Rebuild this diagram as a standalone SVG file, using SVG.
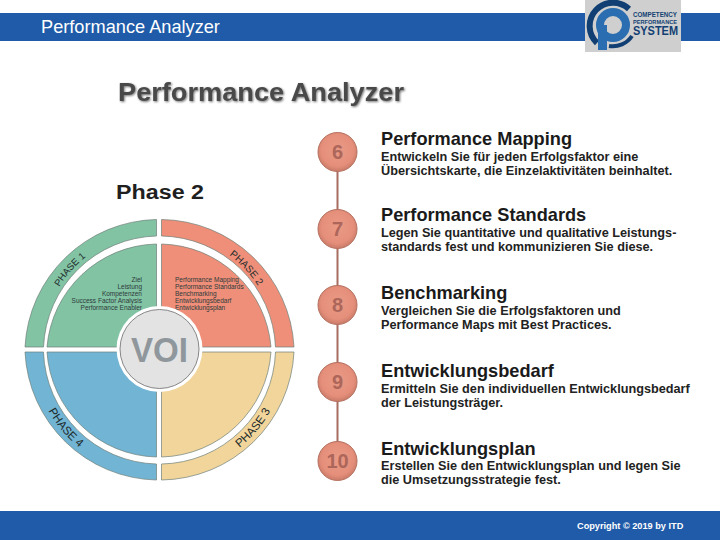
<svg xmlns="http://www.w3.org/2000/svg" width="720" height="540" viewBox="0 0 720 540">
<style>
text{font-family:"Liberation Sans",Arial,sans-serif}
.h{font-size:18.2px;font-weight:700;fill:#1a1a1a}
.b{font-size:12.7px;font-weight:700;fill:#222}
.num{font-size:20px;font-weight:700;fill:#ad665a;text-anchor:middle}
.ph{fill:#1d2b2b;text-anchor:middle}
.sm{font-size:6.5px;fill:#2d3a3a}
.band{fill:#1f5ba8}
.bub{fill:url(#bub);stroke:#b5705f;stroke-width:1}
.edge{stroke:#6f7f78;stroke-width:.7}
</style>
<defs>
<radialGradient id="bub" cx="50%" cy="45%" r="55%"><stop offset="0" stop-color="#e99a85"/><stop offset="0.75" stop-color="#e58f7b"/><stop offset="1" stop-color="#c97a68"/></radialGradient>
<filter id="sh" x="-5%" y="-30%" width="110%" height="170%"><feDropShadow dx="1" dy="1" stdDeviation="1" flood-color="#777"/></filter>
<path id="p1" d="M 46.4 315.5 A 118 118 0 0 1 112.5 240.8" fill="none"/>
<path id="p2" d="M 203.3 240.5 A 117 117 0 0 1 270.8 312.8" fill="none"/>
<path id="p3" d="M 213.2 464.1 A 127 127 0 0 0 282.2 381.9" fill="none"/>
<path id="p4" d="M 36.8 381.9 A 127 127 0 0 0 105.8 464.1" fill="none"/>
</defs>
<rect width="720" height="540" fill="#fff"/>
<rect class="band" x="0" y="13" width="720" height="28"/>
<rect class="band" x="0" y="511" width="720" height="29"/>
<text x="41" y="33" font-size="18.2" fill="#fff">Performance Analyzer</text>
<text x="577" y="529" font-size="9.2" font-weight="700" fill="#fff">Copyright © 2019 by ITD</text>
<g id="logo">
<rect x="585" y="0" width="96" height="52" fill="#cfcfcf"/>
<path d="M 629 9 A 23 23 0 1 0 597 43" fill="none" stroke="#123f73" stroke-width="6"/>
<path d="M 609 46 A 23 23 0 0 0 632 36" fill="none" stroke="#123f73" stroke-width="4"/>
<circle cx="613" cy="25" r="13" fill="none" stroke="#2a6db0" stroke-width="8"/>
<rect x="598" y="25" width="9" height="25" fill="#2a6db0"/>
<text x="633" y="16.5" font-size="6.5" font-weight="700" fill="#123f73" textLength="44" lengthAdjust="spacingAndGlyphs">COMPETENCY</text>
<text x="633" y="23.5" font-size="5.8" font-weight="700" fill="#123f73" textLength="44" lengthAdjust="spacingAndGlyphs">PERFORMANCE</text>
<text x="633" y="35" font-size="12" font-weight="700" fill="#123f73" textLength="45" lengthAdjust="spacingAndGlyphs">SYSTEM</text>
</g>
<text x="118" y="101" font-size="25" font-weight="700" fill="#4a4a4a" filter="url(#sh)" textLength="286" lengthAdjust="spacingAndGlyphs">Performance Analyzer</text>
<text x="116" y="199" font-size="20" font-weight="700" fill="#1f1f1f" textLength="88" lengthAdjust="spacingAndGlyphs">Phase 2</text>
<g id="connectors"><line x1="337.5" y1="152" x2="337.5" y2="461" stroke="#a86c60" stroke-width="2"/></g>
<g id="step6"><circle class="bub" cx="337.5" cy="152" r="19.5"/><text class="num" x="337.5" y="159">6</text>
<text class="h" x="381" y="145">Performance Mapping</text>
<text class="b" x="381" y="161">Entwickeln Sie für jeden Erfolgsfaktor eine</text>
<text class="b" x="381" y="175">Übersichtskarte, die Einzelaktivitäten beinhaltet.</text></g>
<g id="step7"><circle class="bub" cx="337.5" cy="229" r="19.5"/><text class="num" x="337.5" y="236">7</text>
<text class="h" x="381" y="221">Performance Standards</text>
<text class="b" x="381" y="237">Legen Sie quantitative und qualitative Leistungs-</text>
<text class="b" x="381" y="251">standards fest und kommunizieren Sie diese.</text></g>
<g id="step8"><circle class="bub" cx="337.5" cy="305" r="19.5"/><text class="num" x="337.5" y="312">8</text>
<text class="h" x="381" y="299">Benchmarking</text>
<text class="b" x="381" y="315">Vergleichen Sie die Erfolgsfaktoren und</text>
<text class="b" x="381" y="329">Performance Maps mit Best Practices.</text></g>
<g id="step9"><circle class="bub" cx="337.5" cy="382" r="19.5"/><text class="num" x="337.5" y="389">9</text>
<text class="h" x="381" y="377">Entwicklungsbedarf</text>
<text class="b" x="381" y="393">Ermitteln Sie den individuellen Entwicklungsbedarf</text>
<text class="b" x="381" y="407">der Leistungsträger.</text></g>
<g id="step10"><circle class="bub" cx="337.5" cy="461" r="19.5"/><text class="num" x="337.5" y="468">10</text>
<text class="h" x="381" y="455">Entwicklungsplan</text>
<text class="b" x="381" y="470">Erstellen Sie den Entwicklungsplan und legen Sie</text>
<text class="b" x="381" y="484">die Umsetzungsstrategie fest.</text></g>
<g id="wheel">
<g id="q1">
<path class="edge" d="M 156.5 219.5 A 134.5 134.5 0 0 0 25 347 L 43.5 347 A 116 116 0 0 1 156.5 236 Z" fill="#82c3a4"/>
<path class="edge" d="M 156.5 244 A 112.5 112.5 0 0 0 47 347 L 156.5 347 Z" fill="#82c3a4"/>
<text class="ph" font-size="9.5"><textPath href="#p1" startOffset="50%">PHASE 1</textPath></text>
<text class="sm" text-anchor="end"><tspan x="142" y="281.5">Ziel</tspan><tspan x="142" y="288.7">Leistung</tspan><tspan x="142" y="295.9">Kompetenzen</tspan><tspan x="142" y="303.1">Success Factor Analysis</tspan><tspan x="142" y="310.3">Performance Enabler</tspan></text>
</g>
<g id="q2">
<path class="edge" d="M 161.5 219.5 A 134.5 134.5 0 0 1 294 347 L 275.5 347 A 116 116 0 0 0 161.5 236 Z" fill="#ef8f79"/>
<path class="edge" d="M 161.5 244 A 112.5 112.5 0 0 1 271 347 L 161.5 347 Z" fill="#ef8f79"/>
<text class="ph" font-size="10"><textPath href="#p2" startOffset="50%">PHASE 2</textPath></text>
<text class="sm"><tspan x="175" y="281.5">Performance Mapping</tspan><tspan x="175" y="288.7">Performance Standards</tspan><tspan x="175" y="295.9">Benchmarking</tspan><tspan x="175" y="303.1">Entwicklungsbedarf</tspan><tspan x="175" y="310.3">Entwicklungsplan</tspan></text>
</g>
<g id="q3">
<path class="edge" d="M 161.5 480 A 134.5 134.5 0 0 0 294 352 L 275.5 352 A 116 116 0 0 1 161.5 464 Z" fill="#f1d59b"/>
<path class="edge" d="M 161.5 457 A 112.5 112.5 0 0 0 271 352 L 161.5 352 Z" fill="#f1d59b"/>
<text class="ph" font-size="11.5"><textPath href="#p3" startOffset="50%">PHASE 3</textPath></text>
</g>
<g id="q4">
<path class="edge" d="M 156.5 480 A 134.5 134.5 0 0 1 25 352 L 43.5 352 A 116 116 0 0 0 156.5 464 Z" fill="#72b4d4"/>
<path class="edge" d="M 156.5 457 A 112.5 112.5 0 0 1 47 352 L 156.5 352 Z" fill="#72b4d4"/>
<text class="ph" font-size="11.5"><textPath href="#p4" startOffset="50%">PHASE 4</textPath></text>
</g>
<g id="voi">
<circle cx="159.5" cy="349" r="43" fill="#fff"/>
<circle cx="159.5" cy="349" r="39.5" fill="#e3e3e3" stroke="#6b6b6b" stroke-width=".8"/>
<text x="131" y="361.5" font-size="35" font-weight="700" fill="#8f979c" textLength="57" lengthAdjust="spacingAndGlyphs">VOI</text>
</g>
</g>
</svg>
